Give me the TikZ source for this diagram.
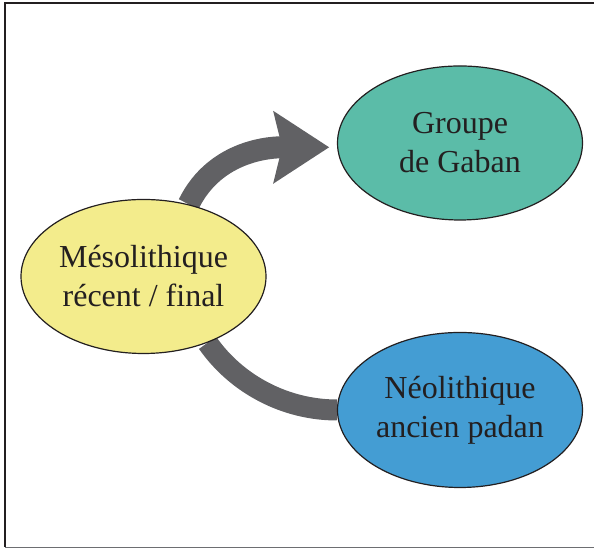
\documentclass[tikz,border=0pt]{standalone}
\usepackage{fontspec}
\setmainfont{Liberation Serif}
\usetikzlibrary{arrows.meta}
\usetikzlibrary{shapes.geometric}
\usetikzlibrary{backgrounds}
\definecolor{mesoyellow}{HTML}{F3EC8C}
\definecolor{gabangreen}{HTML}{5BBCA8}
\definecolor{padanblue}{HTML}{449DD3}
\definecolor{bandgrey}{HTML}{616164}
\definecolor{inkdark}{HTML}{231F20}
\definecolor{framegrey}{HTML}{6D6E71}

\begin{document}
\begin{tikzpicture}[x = 0.5pt, y = 0.5pt,
        period/.style = {ellipse, draw = inkdark, line width = 0.6pt, inner sep = 0pt,
            minimum width = 122.5pt, minimum height = 77pt, align = center,
            text = inkdark, font = \fontsize{16}{19.5}\selectfont},
        band/.style = {draw = bandgrey, line width = 11pt}]
            \useasboundingbox (0,0) rectangle (594,549);
            \draw[inkdark, line width = 1.1pt] (594,546) -- (5.3,546) -- (5.3,1.5);
            \draw[framegrey, line width = 0.8pt] (5.3,1.5) -- (594,1.5);
            \node[period, fill = mesoyellow] (meso) at (143.5,272.5) {Mésolithique\\récent / final};
            \node[period, fill = gabangreen] (gaban) at (460,406) {Groupe\\de Gaban};
            \node[period, fill = padanblue, minimum height = 77.5pt] (padan) at (460,139) {Néolithique\\ancien padan};
            \begin{scope}[on background layer]
                \draw[band, -{Stealth[length = 28pt, width = 36.5pt, inset = 4.5pt, line width = 0pt]}, shorten > = 4pt]
                    (meso.58) to[out = 64, in = 180] (gaban.182);
                \draw[band, line width = 10.5pt] (meso.-46) to[out = -55, in = 180, looseness = 0.9] (padan.west);
            \end{scope}
        \end{tikzpicture}
\end{document}
